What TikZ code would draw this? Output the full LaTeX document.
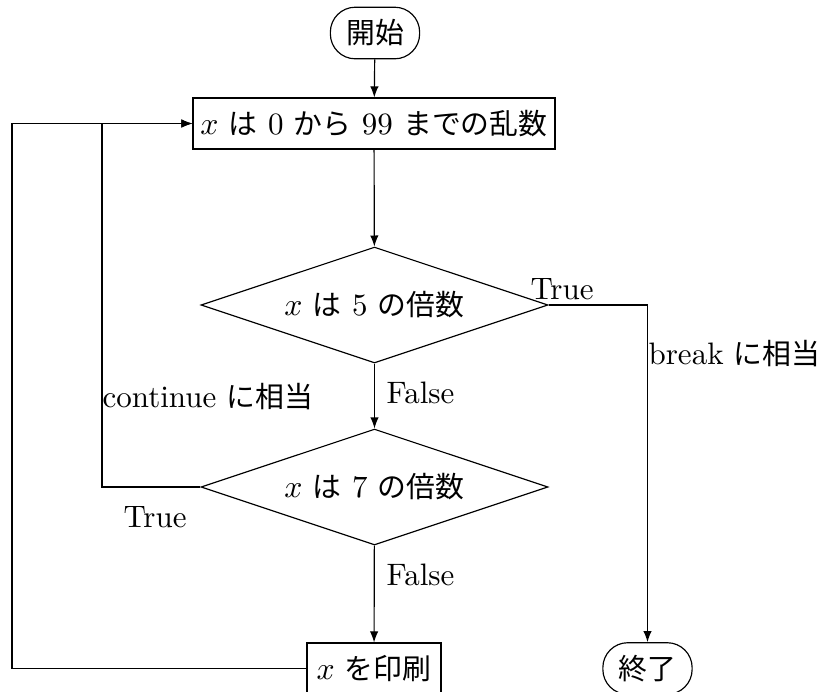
\documentclass[tikz,border=0pt]{standalone}
\usepackage{fontspec}
\newfontfamily\jp[Scale=0.93]{Noto Sans CJK JP}
\usetikzlibrary{shapes.geometric,arrows.meta}
\begin{document}
\begin{tikzpicture}[x=0.345pt,y=-0.345pt,
  every node/.style={font=\fontsize{10.7pt}{13pt}\selectfont},
  terminal/.style={draw,rectangle,rounded corners=8.6pt,minimum width=30.8pt,minimum height=17.8pt,inner sep=0pt},
  procbox/.style={draw,rectangle,minimum height=17.6pt,inner sep=0pt},
  decide/.style={draw,diamond,aspect=3,inner sep=0pt,minimum width=119.7pt,minimum height=40pt},
  lbl/.style={inner sep=0pt},
  arr/.style={-{Latex[length=3.8pt,width=2.9pt]}}]
\useasboundingbox (0,0) rectangle (818,691);
\node[terminal] (start) at (375,33) {\jp 開始};
\node[procbox,minimum width=124.9pt] (rand) at (374,123.5) {$x$ {\jp は} 0 {\jp から} 99 {\jp までの乱数}};
\node[decide] (d1) at (374.5,305) {$x$ {\jp は} 5 {\jp の倍数}};
\node[decide] (d2) at (374.5,487) {$x$ {\jp は} 7 {\jp の倍数}};
\node[procbox,minimum width=46.2pt] (print) at (374,668.5) {$x$ {\jp を印刷}};
\node[terminal] (end) at (647.5,668.5) {\jp 終了};
\coordinate (cl) at (102,0);
\coordinate (ol) at (12,0);
\node[lbl] (t1) at (562,289) {True};
\node[lbl,anchor=west] (brk) at (648,354) {break {\jp に相当}};
\node[lbl,anchor=west] (f1) at (386,393) {False};
\node[lbl,anchor=west] (cont) at (102,397) {continue {\jp に相当}};
\node[lbl] (t2) at (155,517) {True};
\node[lbl,anchor=west] (f2) at (386,575) {False};
\draw[arr] (start) -- (rand);
\draw[arr] (rand) -- (d1);
\draw[arr] (d1) -- (d2);
\draw[arr] (d2) -- (print);
\draw[arr] (d1.east) -| (end.north);
\draw[arr] (d2.west) -- (d2.west -| cl) |- (rand.west);
\draw[arr] (print.west) -- (print.west -| ol) |- (rand.west);
\end{tikzpicture}
\end{document}
